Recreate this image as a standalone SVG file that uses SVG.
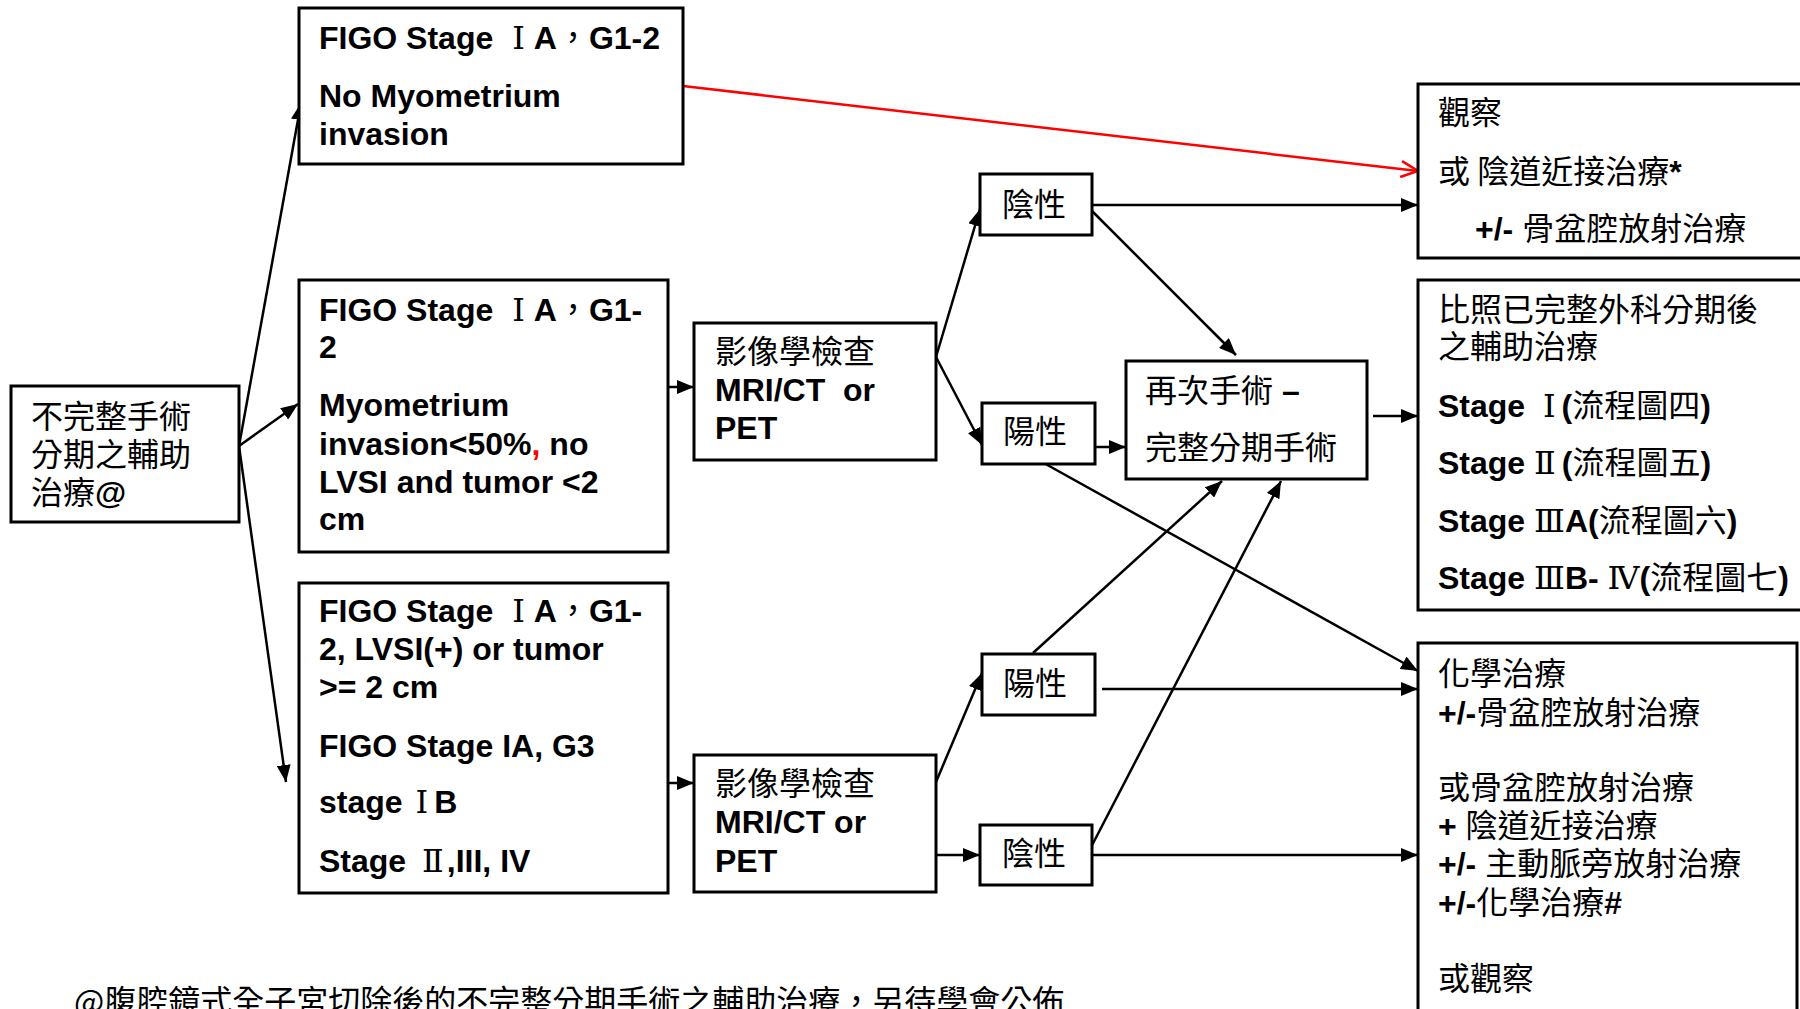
<svg xmlns="http://www.w3.org/2000/svg" width="1800" height="1009" viewBox="0 0 1800 1009">
<defs>
<marker id="ah" markerUnits="userSpaceOnUse" markerWidth="17" markerHeight="14" refX="17" refY="7" orient="auto">
<path d="M0,0 L17,7 L0,14 Z" fill="#000"/>
</marker>
<marker id="ahr" markerUnits="userSpaceOnUse" markerWidth="20" markerHeight="18" refX="18" refY="9" orient="auto">
<path d="M1,1 L18,9 L1,17" fill="none" stroke="#ff0000" stroke-width="2.5"/>
</marker>
</defs>
<style>
.box{fill:#fff;stroke:#000;stroke-width:3}
.c{fill:none;stroke:#000;stroke-width:2.5;marker-end:url(#ah)}
.cr{fill:none;stroke:#ff0000;stroke-width:2.5;marker-end:url(#ahr)}
text{font-family:"Liberation Sans","Noto Sans CJK TC",sans-serif;fill:#000}
.b{font-size:32px;font-weight:bold}
.k{font-size:32px;font-weight:normal;font-family:"Noto Sans CJK TC","Liberation Sans",sans-serif}
.kb{font-weight:bold;font-family:"Liberation Sans","Noto Sans CJK TC",sans-serif}
.kn{font-weight:normal;font-family:"Noto Sans CJK TC",sans-serif}
.r{font-weight:normal;font-family:"DejaVu Serif","Noto Sans CJK TC",serif}
</style>
<rect width="1800" height="1009" fill="#fff"/>

<g id="connectors">
<line class="cr" x1="683" y1="86" x2="1418" y2="171"/>
<line class="c" x1="239" y1="446" x2="301" y2="103"/>
<line class="c" x1="239" y1="446" x2="298" y2="404"/>
<line class="c" x1="239" y1="446" x2="286" y2="782"/>
<line class="c" x1="668" y1="387" x2="694" y2="387"/>
<line class="c" x1="936" y1="357" x2="980" y2="209"/>
<line class="c" x1="936" y1="357" x2="982" y2="445"/>
<line class="c" x1="1086" y1="205" x2="1418" y2="205"/>
<line class="c" x1="1086" y1="205" x2="1236" y2="355"/>
<line class="c" x1="1095" y1="447" x2="1126" y2="447"/>
<line class="c" x1="1042" y1="462" x2="1418" y2="671"/>
<line class="c" x1="1373" y1="416" x2="1418" y2="416"/>
<line class="c" x1="668" y1="783" x2="694" y2="783"/>
<line class="c" x1="936" y1="782" x2="982" y2="673"/>
<line class="c" x1="936" y1="855" x2="980" y2="855"/>
<line class="c" x1="1033" y1="653" x2="1222" y2="481"/>
<line class="c" x1="1088" y1="853" x2="1281" y2="481"/>
<line class="c" x1="1102" y1="689" x2="1418" y2="689"/>
<line class="c" x1="1088" y1="855" x2="1418" y2="855"/>
</g>

<g id="start">
<rect class="box" x="11" y="386" width="228" height="136"/>
<text class="k" x="31" y="428">不完整手術</text>
<text class="k" x="31" y="466">分期之輔助</text>
<text class="k" x="31" y="504">治療<tspan class="kb">@</tspan></text>
</g>

<g id="stage1a-no-invasion">
<rect class="box" x="299" y="8" width="384" height="156"/>
<text class="b" x="319" y="49">FIGO Stage <tspan class="r" dx="10">Ⅰ</tspan><tspan dx="9">A</tspan><tspan class="kn">，</tspan>G1-2</text>
<text class="b" x="319" y="107">No Myometrium</text>
<text class="b" x="319" y="145">invasion</text>
</g>

<g id="stage1a-invasion">
<rect class="box" x="299" y="280" width="369" height="272"/>
<text class="b" x="319" y="321">FIGO Stage <tspan class="r" dx="10">Ⅰ</tspan><tspan dx="9">A</tspan><tspan class="kn">，</tspan>G1-</text>
<text class="b" x="319" y="358">2</text>
<text class="b" x="319" y="416">Myometrium</text>
<text class="b" x="319" y="455">invasion&lt;50%<tspan fill="#ff0000">,</tspan> no</text>
<text class="b" x="319" y="493">LVSI and tumor &lt;2</text>
<text class="b" x="319" y="530">cm</text>
</g>

<g id="stage-high">
<rect class="box" x="299" y="583" width="369" height="310"/>
<text class="b" x="319" y="622">FIGO Stage <tspan class="r" dx="10">Ⅰ</tspan><tspan dx="9">A</tspan><tspan class="kn">，</tspan>G1-</text>
<text class="b" x="319" y="660">2, LVSI(+) or tumor</text>
<text class="b" x="319" y="698">&gt;= 2 cm</text>
<text class="b" x="319" y="757">FIGO Stage IA, G3</text>
<text class="b" x="319" y="813">stage <tspan class="r" dx="4">Ⅰ</tspan><tspan dx="6">B</tspan></text>
<text class="b" x="319" y="872">Stage <tspan class="r" dx="7">Ⅱ</tspan><tspan dx="3">,III, IV</tspan></text>
</g>

<g id="imaging-1">
<rect class="box" x="694" y="323" width="242" height="137"/>
<text class="k" x="715" y="363">影像學檢查</text>
<text class="b" x="715" y="401" xml:space="preserve">MRI/CT  or</text>
<text class="b" x="715" y="439">PET</text>
</g>

<g id="imaging-2">
<rect class="box" x="694" y="755" width="242" height="137"/>
<text class="k" x="715" y="795">影像學檢查</text>
<text class="b" x="715" y="833">MRI/CT or</text>
<text class="b" x="715" y="872">PET</text>
</g>

<g id="neg-1">
<rect class="box" x="980" y="174" width="112" height="61"/>
<text class="k" x="1002" y="216">陰性</text>
</g>

<g id="pos-1">
<rect class="box" x="982" y="403" width="113" height="61"/>
<text class="k" x="1003" y="443">陽性</text>
</g>

<g id="pos-2">
<rect class="box" x="982" y="654" width="113" height="61"/>
<text class="k" x="1003" y="695">陽性</text>
</g>

<g id="neg-2">
<rect class="box" x="980" y="825" width="112" height="60"/>
<text class="k" x="1002" y="865">陰性</text>
</g>

<g id="resurgery">
<rect class="box" x="1126" y="361" width="241" height="118"/>
<text class="k" x="1145" y="402">再次手術<tspan class="kb" font-size="32"> –</tspan></text>
<text class="k" x="1145" y="459">完整分期手術</text>
</g>

<g id="observe">
<rect class="box" x="1418" y="84" width="400" height="174"/>
<text class="k" x="1438" y="124">觀察</text>
<text class="k" x="1438" y="183">或 陰道近接治療<tspan class="kb">*</tspan></text>
<text class="k" x="1475" y="240"><tspan class="kb">+/- </tspan>骨盆腔放射治療</text>
</g>

<g id="complete-staging">
<rect class="box" x="1418" y="280" width="400" height="330"/>
<text class="k" x="1438" y="321">比照已完整外科分期後</text>
<text class="k" x="1438" y="358">之輔助治療</text>
<text class="k" x="1438" y="417"><tspan class="kb" xml:space="preserve">Stage  </tspan><tspan class="r">Ⅰ</tspan><tspan class="kb" dx="6">(</tspan>流程圖四<tspan class="kb">)</tspan></text>
<text class="k" x="1438" y="474"><tspan class="kb">Stage </tspan><tspan class="r">Ⅱ</tspan><tspan class="kb" dx="6">(</tspan>流程圖五<tspan class="kb">)</tspan></text>
<text class="k" x="1438" y="532"><tspan class="kb">Stage </tspan><tspan class="r">Ⅲ</tspan><tspan class="kb">A(</tspan>流程圖六<tspan class="kb">)</tspan></text>
<text class="k" x="1438" y="589"><tspan class="kb">Stage </tspan><tspan class="r">Ⅲ</tspan><tspan class="kb">B- </tspan><tspan class="r">Ⅳ</tspan><tspan class="kb">(</tspan>流程圖七<tspan class="kb">)</tspan></text>
</g>

<g id="chemo">
<rect class="box" x="1418" y="643" width="379" height="400"/>
<text class="k" x="1438" y="685">化學治療</text>
<text class="k" x="1438" y="724"><tspan class="kb">+/-</tspan>骨盆腔放射治療</text>
<text class="k" x="1438" y="799">或骨盆腔放射治療</text>
<text class="k" x="1438" y="837"><tspan class="kb">+ </tspan>陰道近接治療</text>
<text class="k" x="1438" y="875"><tspan class="kb">+/- </tspan>主動脈旁放射治療</text>
<text class="k" x="1438" y="914"><tspan class="kb">+/-</tspan>化學治療<tspan class="kb">#</tspan></text>
<text class="k" x="1438" y="990">或觀察</text>
</g>

<g id="footnote">
<text class="k" x="74" y="1013">@腹腔鏡式全子宮切除後的不完整分期手術之輔助治療，另待學會公佈</text>
</g>
</svg>
